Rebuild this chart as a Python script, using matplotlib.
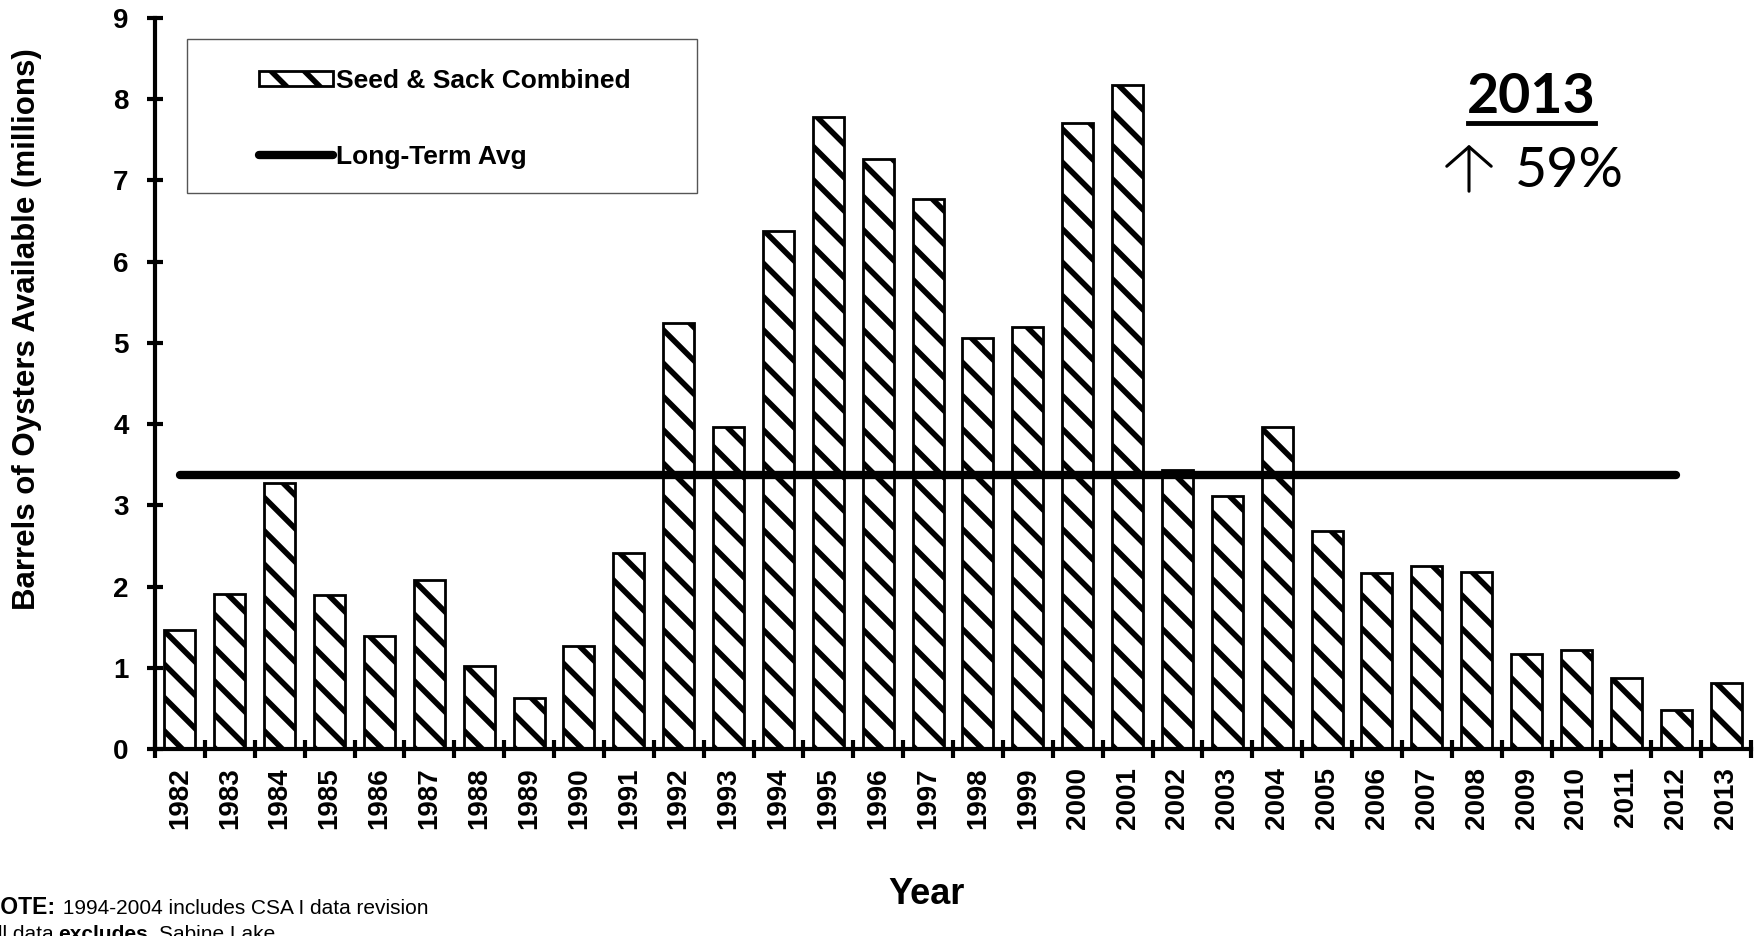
import numpy as np
import matplotlib
matplotlib.use("Agg")
import matplotlib.pyplot as plt
from matplotlib.patches import Patch, Rectangle, FancyArrowPatch
from matplotlib.lines import Line2D

plt.rcParams['font.family'] = ['Liberation Sans', 'DejaVu Sans']
plt.rcParams['hatch.linewidth'] = 4.0

# data (millions of barrels)
years = [str(y) for y in range(1982, 2014)]
seed_sack = [1.47, 1.91, 3.28, 1.89, 1.39, 2.08, 1.02, 0.63, 1.27, 2.41,
             5.24, 3.96, 6.38, 7.78, 7.26, 6.77, 5.06, 5.19, 7.71, 8.18,
             3.44, 3.12, 3.97, 2.68, 2.17, 2.25, 2.18, 1.17, 1.22, 0.88,
             0.48, 0.81]
long_term_avg = 3.37
avg_years = years[:-1]  # line runs 1982-2012

W, H = 1763, 936
fig = plt.figure(figsize=(W / 100, H / 100), dpi=100)
ax = fig.add_axes([155 / W, 187 / H, (1751 - 155) / W, (749 - 18) / H])

x = np.arange(len(years))
ax.bar(x, seed_sack, width=0.62, color='white', edgecolor='black',
       hatch='\\', linewidth=2, zorder=2)
ax.plot(x[:len(avg_years)], [long_term_avg] * len(avg_years), color='black',
        lw=6, solid_capstyle='round', zorder=3)

ax.set_xlim(-0.5, len(years) - 0.5)
ax.set_ylim(0, 9)
ax.set_yticks(range(0, 10))
ax.set_xticks(x)
ax.set_xticklabels(years, rotation=90, fontsize=20, fontweight='bold')
ax.set_xticks(np.arange(-0.5, len(years), 1), minor=True)
for lab in ax.get_yticklabels():
    lab.set_fontsize(20)
    lab.set_fontweight('bold')

for s in ['top', 'right']:
    ax.spines[s].set_visible(False)
for s in ['left', 'bottom']:
    ax.spines[s].set_linewidth(3)

ax.tick_params(axis='x', which='major', length=0, pad=13)
ax.tick_params(axis='x', which='minor', direction='inout', length=13, width=3)
ax.tick_params(axis='y', direction='inout', length=12, width=3, pad=13)

# legend with its own box
handles = [Patch(facecolor='white', edgecolor='black', hatch='\\', linewidth=2),
           Line2D([], [], color='black', lw=6, solid_capstyle='round')]
fig.legend(handles, ['Seed & Sack Combined', 'Long-Term Avg'],
           loc='center left', bbox_to_anchor=(259 / W, 1 - 119 / H),
           frameon=False, prop={'weight': 'bold', 'size': 19},
           handlelength=2.8, handleheight=0.5, handletextpad=0.1,
           labelspacing=1.95, borderpad=0, borderaxespad=0)
fig.add_artist(Rectangle((187 / W, 1 - 193 / H), (697 - 187) / W, (193 - 39) / H,
                         transform=fig.transFigure, fill=False,
                         edgecolor='#555555', linewidth=1))

# 2013 callout
fig.text(1531 / W, 1 - 113 / H, '2013', ha='center', va='baseline',
         fontsize=40, fontweight='bold', family=['Lato', 'DejaVu Sans'])
fig.add_artist(Line2D([1468 / W, 1595 / W], [1 - 123 / H] * 2,
                      transform=fig.transFigure, color='black', lw=3.5))
fig.add_artist(FancyArrowPatch((1469 / W, 1 - 194 / H), (1469 / W, 1 - 142 / H),
                               transform=fig.transFigure,
                               arrowstyle='->,head_length=0.35,head_width=0.4',
                               mutation_scale=40, lw=2.2, color='black'))
fig.text(1515 / W, 1 - 187 / H, '59%', ha='left', va='baseline',
         fontsize=40, family=['Lato', 'DejaVu Sans'])

# axis titles
fig.text(27 / W, 1 - 329 / H, 'Barrels of Oysters Available (millions)',
         rotation=90, ha='center', va='center', fontsize=22.5, fontweight='bold')
fig.text(927 / W, 1 - 895 / H, 'Year', ha='center', va='center',
         fontsize=26, fontweight='bold')

# footnote (cut at the left and bottom edges as in the source)
fig.text(56 / W, 1 - 914 / H, 'NOTE:', ha='right', va='baseline',
         fontsize=16.5, fontweight='bold')
fig.text(57 / W, 1 - 914 / H, ' 1994-2004 includes CSA I data revision',
         ha='left', va='baseline', fontsize=15)
fig.text(54 / W, 1 - 940 / H, 'All data', ha='right', va='baseline', fontsize=15)
fig.text(58 / W, 1 - 940 / H, 'excludes', ha='left', va='baseline',
         fontsize=15, fontweight='bold')
fig.text(159 / W, 1 - 940 / H, 'Sabine Lake', ha='left', va='baseline', fontsize=15)

fig.savefig('out.png', dpi=100)
